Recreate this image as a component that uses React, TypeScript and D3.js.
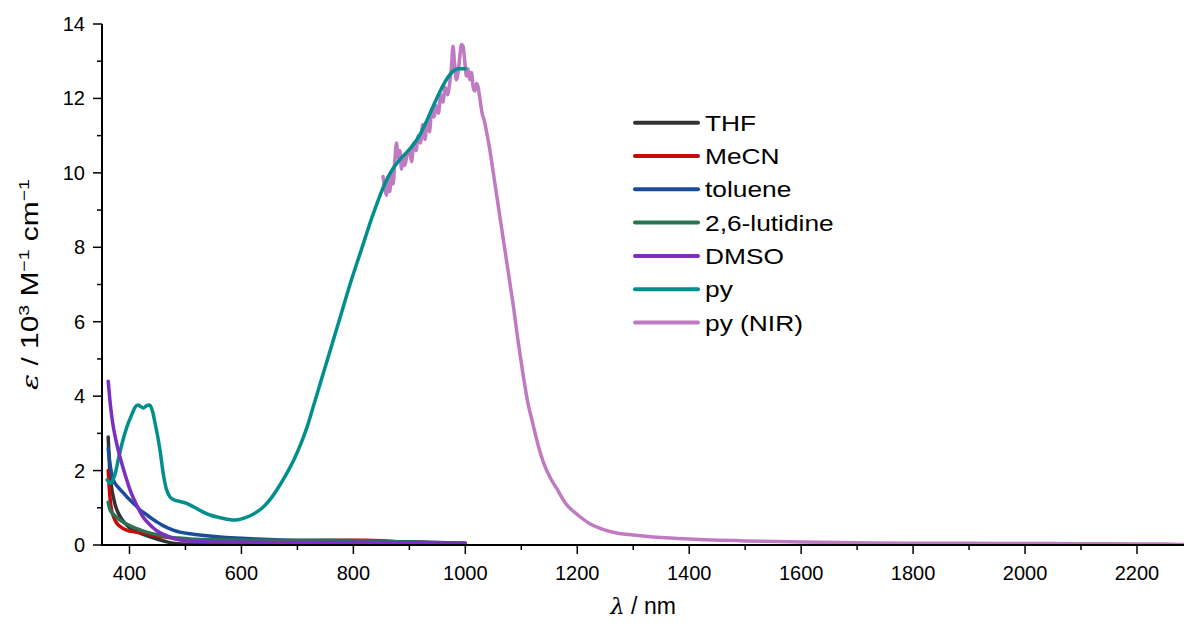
import React from "react";
import * as d3 from "d3";

type P = [number, number];

const seriesNames = ["THF", "MeCN", "toluene", "2,6-lutidine", "DMSO", "py", "py (NIR)"];
const seriesColors = ["#333333", "#c40a0a", "#1a4d99", "#2b7452", "#7b2ec0", "#008f8c", "#c07ac2"];

const thf: P[] = [[362, 2.9], [365, 1.95], [368, 1.55], [371, 1.3], [375, 1.05], [380, 0.86], [387, 0.68], [395, 0.54], [405, 0.42], [419, 0.32], [433, 0.24], [449, 0.16], [463, 0.1], [478, 0.05], [495, 0.03], [530, 0.02], [600, 0.02], [700, 0.03], [800, 0.04], [900, 0.03], [1000, 0.02]];
const mecn: P[] = [[362, 2.0], [364, 1.5], [366, 1.15], [368, 0.94], [372, 0.74], [377, 0.59], [385, 0.48], [395, 0.4], [410, 0.35], [424, 0.32], [440, 0.27], [460, 0.22], [478, 0.18], [496, 0.15], [520, 0.12], [560, 0.1], [620, 0.09], [700, 0.1], [780, 0.13], [820, 0.13], [880, 0.09], [940, 0.06], [1000, 0.03]];
const toluene: P[] = [[362, 2.6], [366, 2.1], [371, 1.75], [380, 1.55], [389, 1.4], [400, 1.22], [410, 1.08], [419, 0.94], [430, 0.82], [440, 0.71], [449, 0.62], [460, 0.52], [470, 0.45], [478, 0.4], [492, 0.34], [508, 0.3], [530, 0.26], [567, 0.21], [600, 0.18], [628, 0.16], [680, 0.13], [750, 0.12], [800, 0.11], [900, 0.08], [1000, 0.05]];
const lutidine: P[] = [[362, 1.15], [365, 0.95], [370, 0.85], [376, 0.76], [383, 0.67], [394, 0.57], [406, 0.48], [420, 0.4], [437, 0.32], [452, 0.27], [467, 0.22], [485, 0.19], [508, 0.16], [560, 0.14], [650, 0.13], [750, 0.13], [800, 0.12], [900, 0.08], [1000, 0.05]];
const dmso: P[] = [[362, 4.4], [366, 3.75], [370, 3.28], [376, 2.8], [383, 2.37], [392, 1.9], [401, 1.48], [412, 1.1], [424, 0.76], [436, 0.55], [449, 0.38], [463, 0.27], [478, 0.18], [493, 0.13], [508, 0.1], [560, 0.08], [650, 0.07], [800, 0.07], [900, 0.06], [1000, 0.05]];
const py: P[] = [[360, 1.75], [363, 1.69], [366, 1.66], [370, 1.74], [375, 1.95], [380, 2.3], [388, 2.8], [396, 3.2], [404, 3.5], [410, 3.7], [415, 3.76], [420, 3.72], [425, 3.68], [430, 3.74], [436, 3.76], [441, 3.6], [446, 3.25], [450, 2.95], [455, 2.5], [460, 1.95], [466, 1.5], [472, 1.3], [480, 1.21], [490, 1.17], [502, 1.12], [515, 1.02], [531, 0.89], [545, 0.8], [560, 0.74], [572, 0.7], [584, 0.67], [594, 0.68], [606, 0.73], [620, 0.82], [636, 0.98], [650, 1.2], [664, 1.5], [680, 1.9], [694, 2.3], [707, 2.75], [718, 3.2], [728, 3.7], [738, 4.2], [748, 4.7], [760, 5.3], [772, 5.9], [784, 6.5], [796, 7.1], [808, 7.65], [820, 8.2], [832, 8.75], [844, 9.25], [856, 9.7], [868, 10.05], [880, 10.3], [892, 10.5], [904, 10.7], [916, 10.95], [928, 11.3], [940, 11.7], [952, 12.1], [964, 12.45], [976, 12.7], [988, 12.8], [1000, 12.8]];
const pyNir: P[] = [[853, 9.9], [856, 9.6], [859, 9.4], [862, 9.9], [865, 9.5], [868, 10.0], [871, 9.7], [874, 10.3], [877, 10.8], [880, 10.4], [883, 10.6], [886, 10.1], [889, 10.4], [892, 10.2], [896, 10.5], [900, 10.6], [904, 10.3], [908, 10.8], [912, 10.6], [916, 11.0], [920, 10.8], [924, 11.3], [928, 10.9], [932, 11.4], [936, 11.1], [940, 11.7], [944, 11.5], [948, 11.8], [952, 11.6], [956, 12.1], [960, 11.9], [964, 12.3], [968, 12.1], [972, 12.4], [975, 12.8], [978, 13.4], [981, 12.9], [984, 12.5], [987, 12.7], [990, 13.1], [993, 13.45], [996, 13.4], [999, 13.0], [1002, 12.6], [1005, 12.8], [1008, 12.5], [1011, 12.7], [1014, 12.3], [1017, 12.2], [1020, 12.4], [1023, 12.3], [1026, 12.0], [1030, 11.6], [1034, 11.4], [1038, 11.1], [1044, 10.6], [1050, 10.0], [1058, 9.2], [1068, 8.2], [1077, 7.3], [1086, 6.4], [1095, 5.4], [1103, 4.6], [1112, 3.8], [1120, 3.3], [1128, 2.8], [1140, 2.2], [1152, 1.8], [1164, 1.5], [1180, 1.1], [1200, 0.82], [1225, 0.55], [1250, 0.4], [1275, 0.31], [1300, 0.27], [1350, 0.2], [1400, 0.16], [1500, 0.11], [1600, 0.08], [1700, 0.06], [1800, 0.05], [1900, 0.045], [2000, 0.04], [2100, 0.035], [2200, 0.03], [2250, 0.03], [2285, 0.01]];

const seriesData: P[][] = [thf, mecn, toluene, lutidine, dmso, py, pyNir];
const drawOrder = [0, 1, 2, 3, 6, 5, 4];

const xMajor = [400, 600, 800, 1000, 1200, 1400, 1600, 1800, 2000, 2200];
const xMinor = [500, 700, 900, 1100, 1300, 1500, 1700, 1900, 2100];
const yMajor = [0, 2, 4, 6, 8, 10, 12, 14];
const yMinor = [1, 3, 5, 7, 9, 11, 13];

const W = 1184, H = 624;
const L = 102, R = 1184, T = 24, B = 545;
const FONT = "'Liberation Sans', Arial, sans-serif";

export default function App() {
  const x = d3.scaleLinear().domain([350.9, 2284]).range([L, R]);
  const y = d3.scaleLinear().domain([0, 14]).range([B, T]);
  const line = d3.line<P>().x(d => x(d[0])).y(d => y(d[1])).curve(d3.curveMonotoneX);
  const legendX0 = 635, legendX1 = 698, legendY0 = 122.7, legendDy = 33.3;

  return (
    <svg width={W} height={H} style={{ position: "absolute", left: 0, top: 0, background: "#fff" }} fontFamily={FONT}>
      <rect width={W} height={H} fill="#fff" />
      <defs>
        <clipPath id="plot"><rect x={L} y={T - 10} width={R - L} height={B - T + 10} /></clipPath>
      </defs>
      <g clipPath="url(#plot)">
        {drawOrder.map(i => (
          <path key={i} d={line(seriesData[i]) || ""} fill="none" stroke={seriesColors[i]} strokeWidth={3.5} strokeLinejoin="round" strokeLinecap="round" />
        ))}
      </g>
      {/* axes */}
      <line x1={L} x2={R} y1={B} y2={B} stroke="#000" strokeWidth={2} />
      <line x1={L} x2={L} y1={B + 1} y2={T} stroke="#000" strokeWidth={2} />
      {xMajor.map(v => (
        <g key={"xM" + v}>
          <line x1={x(v)} x2={x(v)} y1={B} y2={B + 9} stroke="#000" strokeWidth={1.5} />
          <text x={x(v)} y={B + 35} textAnchor="middle" fontSize={20}>{v}</text>
        </g>
      ))}
      {xMinor.map(v => (
        <line key={"xm" + v} x1={x(v)} x2={x(v)} y1={B} y2={B + 5} stroke="#000" strokeWidth={1.5} />
      ))}
      {yMajor.map(v => (
        <g key={"yM" + v}>
          <line x1={L} x2={L - 9} y1={y(v)} y2={y(v)} stroke="#000" strokeWidth={1.5} />
          <text x={L - 17} y={y(v) + 7} textAnchor="end" fontSize={20}>{v}</text>
        </g>
      ))}
      {yMinor.map(v => (
        <line key={"ym" + v} x1={L} x2={L - 5} y1={y(v)} y2={y(v)} stroke="#000" strokeWidth={1.5} />
      ))}
      {/* axis titles */}
      <text x={(L + R) / 2} y={614} textAnchor="middle" fontSize={23}>
        <tspan fontStyle="italic" fontFamily="'DejaVu Serif', serif">λ</tspan> / nm
      </text>
      <g transform={`translate(38, ${(T + B) / 2}) rotate(-90) scale(1.3, 1)`}>
        <text x={0} y={0} textAnchor="middle" fontSize={23}>
          <tspan fontStyle="italic" fontFamily="'DejaVu Serif', serif">ε</tspan>
          <tspan> / 10</tspan>
          <tspan fontSize={15} dy={-9}>3</tspan>
          <tspan dy={9}> M</tspan>
          <tspan fontSize={15} dy={-9}>−1</tspan>
          <tspan dy={9}> cm</tspan>
          <tspan fontSize={15} dy={-9}>−1</tspan>
        </text>
      </g>
      {/* legend */}
      {seriesNames.map((n, i) => (
        <g key={n}>
          <line x1={legendX0} x2={legendX1} y1={legendY0 + i * legendDy} y2={legendY0 + i * legendDy} stroke={seriesColors[i]} strokeWidth={4} strokeLinecap="round" />
          <text transform={`translate(705, ${legendY0 + i * legendDy + 8}) scale(1.17, 1)`} fontSize={22.5}>{n}</text>
        </g>
      ))}
    </svg>
  );
}
